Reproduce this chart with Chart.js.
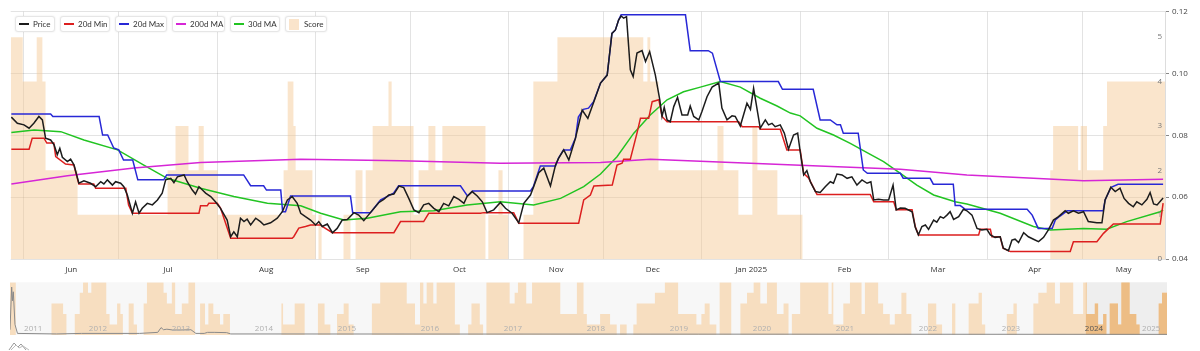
<!DOCTYPE html>
<html><head><meta charset="utf-8">
<script src="https://cdn.jsdelivr.net/npm/chart.js@4.4.1/dist/chart.umd.min.js"></script>
<style>
html,body{margin:0;padding:0;background:#fff;width:1200px;height:351px;overflow:hidden;font-family:"Open Sans",sans-serif;}
#main{position:absolute;left:0;top:0;width:1200px;height:280px;}
#nav{position:absolute;left:0;top:280px;width:1200px;height:56px;}
#legend{position:absolute;left:15px;top:16px;}
.item{position:absolute;top:0;height:16px;box-sizing:border-box;border:1px solid #e6e6e6;border-radius:3px;background:#fff;box-shadow:0 0 2px rgba(0,0,0,0.10);display:flex;align-items:center;padding:0 0 0 3px;font-family:Lato,sans-serif;font-size:8px;color:#333;white-space:nowrap;}
.sw{width:10px;height:2px;margin-right:4px;}
.sq{width:10px;height:11px;margin-right:5px;}
#icon{position:absolute;left:8px;top:340px;}
</style></head><body>
<canvas id="main" width="1200" height="280"></canvas>
<canvas id="nav" width="1200" height="56"></canvas>
<div id="legend"></div>
<svg id="icon" width="22" height="11" viewBox="0 0 22 11"><path d="M1 10 L6 3 L10 7 L13 4 L18 10" fill="none" stroke="#999" stroke-width="1"/><path d="M3 10 L8 5 L11 8 L15 6 L21 10" fill="none" stroke="#bbb" stroke-width="1"/></svg>
<script>
// ---- main chart data: day offsets counted from 1 Jun 2024 ----
const price = [[-3.9,0.0859],[-2.0,0.0839],[0.1,0.0834],[1.7,0.0823],[3.2,0.0839],[4.8,0.0861],[5.9,0.0850],[6.9,0.0791],[8.5,0.0785],[9.6,0.0769],[10.6,0.0737],[11.4,0.0758],[12.2,0.0729],[13.8,0.0715],[14.8,0.0723],[15.9,0.0704],[17.4,0.0645],[19.0,0.0653],[21.1,0.0645],[22.7,0.0634],[24.3,0.0650],[25.3,0.0643],[26.4,0.0656],[28.0,0.0639],[29.0,0.0650],[30.6,0.0645],[31.6,0.0634],[32.7,0.0607],[34.3,0.0548],[35.3,0.0585],[36.4,0.0548],[37.4,0.0564],[39.0,0.0580],[40.6,0.0575],[42.2,0.0591],[43.7,0.0613],[44.8,0.0656],[46.4,0.0661],[47.4,0.0647],[48.5,0.0666],[50.6,0.0672],[51.6,0.0650],[53.2,0.0623],[54.2,0.0610],[55.3,0.0634],[56.4,0.0623],[57.4,0.0613],[59.0,0.0602],[60.5,0.0585],[62.1,0.0564],[64.2,0.0526],[65.3,0.0472],[66.3,0.0488],[67.4,0.0472],[68.4,0.0532],[69.5,0.0521],[70.5,0.0529],[71.6,0.0510],[73.2,0.0532],[74.7,0.0521],[75.8,0.0510],[77.9,0.0517],[80.0,0.0532],[81.6,0.0553],[83.2,0.0591],[84.7,0.0602],[86.3,0.0580],[87.4,0.0548],
[88.9,0.0537],[90.5,0.0526],[92.1,0.0510],[93.1,0.0521],[94.2,0.0505],[95.8,0.0513],[97.4,0.0485],[98.9,0.0499],[100.5,0.0526],[102.1,0.0528],[104.2,0.0550],[105.7,0.0542],[107.3,0.0524],[109.4,0.0550],[112.0,0.0582],[113.6,0.0593],[115.2,0.0607],[116.8,0.0610],[118.4,0.0636],[119.9,0.0631],[121.5,0.0596],[123.1,0.0559],[124.7,0.0550],[126.2,0.0575],[127.8,0.0580],[129.4,0.0564],[131.0,0.0553],[132.5,0.0580],[134.1,0.0572],[135.7,0.0602],[137.3,0.0593],[138.9,0.0580],[139.9,0.0602],[141.5,0.0618],[143.1,0.0604],[144.7,0.0585],[146.2,0.0550],[148.3,0.0559],[150.4,0.0583],[152.0,0.0564],[154.1,0.0548],[156.2,0.0517],[157.8,0.0580],[159.9,0.0607],[160.9,0.0634],[162.5,0.0679],[164.1,0.0694],[166.2,0.0636],[167.8,0.0704],[168.8,0.0726],[170.4,0.0753],[172.0,0.0720],[174.1,0.0791],[176.2,0.0882],[178.0,0.0855],[179.9,0.0909],[182.0,0.0969],
[184.1,0.0995],[185.6,0.1130],[186.7,0.1141],[187.7,0.1173],[188.5,0.1186],[189.3,0.1179],[190.2,0.1184],[191.4,0.1012],[192.3,0.0990],[193.5,0.1066],[195.1,0.1074],[196.2,0.1039],[197.5,0.1071],[199.3,0.0995],[200.7,0.0915],[201.4,0.0861],[202.1,0.0891],[203.0,0.0850],[204.0,0.0844],[205.1,0.0893],[206.3,0.0923],[207.7,0.0866],[209.5,0.0866],[210.3,0.0895],[211.4,0.0861],[213.0,0.0850],[214.0,0.0877],[215.6,0.0925],[217.2,0.0956],[219.3,0.0969],[220.3,0.0888],[221.9,0.0850],[223.5,0.0863],[224.5,0.0861],[226.1,0.0830],[228.2,0.0904],[229.3,0.0884],[230.3,0.0952],[231.6,0.0872],[232.4,0.0823],[234.0,0.0850],[235.0,0.0834],[236.1,0.0839],[237.1,0.0828],[238.7,0.0834],[240.0,0.0807],[241.3,0.0755],[242.9,0.0801],[244.2,0.0807],[245.0,0.0747],[246.1,0.0672],[247.1,0.0686],[248.2,0.0650],[249.8,0.0618],[251.3,0.0615],[252.9,0.0634],[254.5,0.0650],[255.5,0.0645],[256.6,0.0675],[258.2,0.0672],[259.8,0.0661],[261.3,0.0666],[262.9,0.0639],[264.5,0.0656],[266.1,0.0645],[267.3,0.0650],[268.2,0.0591],[269.7,0.0593],[271.3,0.0591],[272.9,0.0591],[274.3,0.0639],[275.3,0.0559],[276.6,0.0565],
[278.1,0.0564],[280.3,0.0553],[281.3,0.0503],[282.3,0.0478],[283.4,0.0505],[284.5,0.0510],[285.5,0.0496],[287.1,0.0526],[288.1,0.0519],[289.2,0.0537],[290.2,0.0532],[291.3,0.0542],[292.3,0.0553],[293.4,0.0528],[295.0,0.0537],[296.5,0.0561],[297.6,0.0556],[299.2,0.0542],[300.8,0.0499],[302.3,0.0494],[303.9,0.0496],[305.0,0.0478],[306.5,0.0470],[308.1,0.0472],[309.1,0.0435],[310.7,0.0427],[311.8,0.0461],[312.8,0.0464],[313.9,0.0453],[315.5,0.0485],[317.0,0.0472],[318.6,0.0464],[320.2,0.0456],[321.8,0.0470],[323.3,0.0494],[324.9,0.0526],[326.5,0.0537],[328.6,0.0556],[329.6,0.0548],[331.2,0.0556],[332.8,0.0548],[334.4,0.0553],[335.9,0.0521],[338.6,0.0517],[340.2,0.0517],[341.2,0.0591],[343.0,0.0632],[344.4,0.0618],[345.9,0.0629],[347.2,0.0596],[348.6,0.0580],[350.1,0.0569],[351.2,0.0585],[352.8,0.0575],[354.4,0.0593],[355.4,0.0615],[356.5,0.0578],[357.6,0.0575],[359.5,0.0597]];

const min20 = [[-3.9,0.0755],[1.7,0.0755],[2.7,0.0791],[6.4,0.0791],[7.3,0.0775],[9.5,0.0775],[10.1,0.0731],[13.2,0.0707],[15.8,0.0704],[17.4,0.0643],[22.1,0.0643],[22.7,0.0629],[32.2,0.0629],[33.1,0.0575],[34.3,0.0548],[55.3,0.0548],[55.8,0.0572],[57.9,0.0572],[58.4,0.0580],[61.1,0.0580],[62.1,0.0565],[65.3,0.0467],[84.7,0.0467],[85.2,0.0472],[86.8,0.0500],[88.9,0.0505],[90.5,0.0510],[93.7,0.0510],[94.3,0.0505],[97.4,0.0485],[116.8,0.0485],[118.9,0.0521],[126.2,0.0521],[127.8,0.0548],[144.1,0.0548],[145.2,0.0550],[154.6,0.0550],[156.2,0.0516],[175.1,0.0516],[176.7,0.0591],[178.8,0.0607],[179.9,0.0636],[185.7,0.0639],[187.2,0.0704],[188.8,0.0710],[189.3,0.0723],[191.4,0.0723],[193.5,0.0807],[194.6,0.0855],[197.2,0.0855],[198.3,0.0909],[200.4,0.0915],[201.4,0.0861],[203.0,0.0844],[225.6,0.0844],[226.7,0.0828],[231.9,0.0828],[232.4,0.0820],[238.7,0.0820],[240.8,0.0753],[245.0,0.0753],[246.1,0.0677],[247.7,0.0661],[250.3,0.0609],[267.1,0.0609],[268.2,0.0585],[274.5,0.0585],[275.3,0.0559],[280.3,0.0559],[281.3,0.0505],[282.3,0.0478],[301.3,0.0478],[301.8,0.0496],[305.0,0.0496],[305.5,0.0472],[308.1,0.0472],[309.0,0.0435],[311.3,0.0424],[330.2,0.0424],[331.2,0.0456],[338.6,0.0456],[340.7,0.0483],[343.8,0.0513],[358.6,0.0513],[359.5,0.0581]];

const max20 = [[-3.9,0.0869],[8.5,0.0869],[9.2,0.0861],[23.8,0.0861],[24.9,0.0801],[26.5,0.0801],[28.4,0.0759],[30.0,0.0753],[31.5,0.0720],[34.4,0.0720],[36.0,0.0656],[44.2,0.0656],[45.1,0.0672],[69.4,0.0672],[71.6,0.0637],[75.7,0.0637],[76.6,0.0623],[81.1,0.0623],[81.7,0.0553],[82.6,0.0553],[84.2,0.0604],[103.1,0.0604],[103.8,0.0550],[109.4,0.0550],[112.6,0.0591],[115.1,0.0604],[116.7,0.0613],[118.3,0.0637],[137.8,0.0637],[140.0,0.0604],[141.6,0.0620],[159.9,0.0620],[160.8,0.0634],[163.0,0.0701],[167.8,0.0701],[168.7,0.0726],[170.3,0.0753],[172.5,0.0753],[174.1,0.0791],[175.0,0.0859],[176.6,0.0884],[178.2,0.0888],[179.8,0.0909],[182.0,0.0969],[184.1,0.0995],[185.6,0.1130],[186.7,0.1141],[187.7,0.1173],[188.5,0.1190],[208.8,0.1190],[210.3,0.1074],[216.0,0.1074],[217.3,0.1066],[219.8,0.0974],[238.1,0.0974],[239.4,0.0949],[249.1,0.0949],[251.3,0.0850],[254.5,0.0850],[256.6,0.0834],[257.7,0.0834],[258.6,0.0807],[263.3,0.0807],[264.9,0.0688],[266.2,0.0677],[276.6,0.0677],[277.5,0.0661],[286.0,0.0661],[287.0,0.0642],[293.3,0.0642],[293.9,0.0573],[295.5,0.0573],[297.1,0.0561],[316.6,0.0561],[318.2,0.0542],[320.1,0.0499],[324.5,0.0499],[325.5,0.0526],[327.0,0.0539],[329.2,0.0556],[340.6,0.0556],[341.2,0.0591],[343.1,0.0632],[345.3,0.0642],[359.5,0.0642]];

const ma200 = [[-3.9,0.0643],[13.8,0.0669],[34.8,0.0694],[55.8,0.0712],[87.4,0.0723],[118.9,0.0718],[150.4,0.0710],[182.0,0.0712],[197.7,0.0723],[229.3,0.0710],[276.6,0.0690],[297.6,0.0672],[318.6,0.0661],[334.4,0.0653],[359.5,0.0658]];

const ma30 = [[-3.9,0.0809],[3.3,0.0817],[11.7,0.0812],[19.0,0.0785],[29.6,0.0753],[37.9,0.0704],[45.3,0.0661],[55.8,0.0629],[66.3,0.0602],[76.9,0.0580],[87.4,0.0572],[93.7,0.0548],[101.0,0.0526],[108.4,0.0532],[118.9,0.0553],[129.4,0.0556],[139.9,0.0575],[150.4,0.0585],[160.9,0.0575],[169.4,0.0596],[176.7,0.0634],[182.0,0.0675],[187.2,0.0731],[192.5,0.0807],[197.7,0.0866],[203.0,0.0915],[208.2,0.0941],[213.5,0.0956],[219.8,0.0974],[226.1,0.0956],[232.4,0.0920],[237.7,0.0895],[241.9,0.0872],[245.0,0.0863],[250.3,0.0823],[255.5,0.0801],[260.8,0.0774],[266.1,0.0744],[271.3,0.0715],[276.6,0.0677],[281.8,0.0639],[287.1,0.0607],[293.9,0.0585],[297.6,0.0578],[308.1,0.0548],[318.6,0.0505],[323.9,0.0494],[334.4,0.0499],[341.7,0.0496],[348.0,0.0521],[358.6,0.0553],[359.5,0.0559]];

// score: [day the level starts, level]
const score = [[-4.1,5],[-0.3,4],[4.1,5],[5.9,4],[6.9,2],[17.0,1],[45.4,2],[47.9,3],[52.0,2],[55.2,3],[56.8,2],[61.2,1],[82.0,2],[83.3,4],[85.1,3],[85.8,2],[91.1,1],[92.1,0],[93.0,1],[94.0,0],[100.9,1],[103.1,0],[104.7,2],[106.9,1],[107.9,2],[110.1,3],[115.1,4],[116.1,3],[123.0,1],[124.6,2],[127.7,3],[129.9,2],[132.1,3],[145.7,0],[146.6,1],[149.8,2],[151.1,1],[152.9,0],[157.7,1],[160.8,4],[168.4,5],[195.5,4],[196.8,5],[197.7,4],[200.3,2],[218.9,3],[220.8,2],[225.5,1],[229.9,3],[231.5,2],[237.8,1],[245.7,0],[323.9,2],[324.8,3],[332.7,2],[333.5,3],[335.5,2],[340.6,3],[341.8,4],[360.1,4]];

const monthLabels = ['Jun','Jul','Aug','Sep','Oct','Nov','Dec','Jan 2025','Feb','Mar','Apr','May'];
const priceTicks = [0.04,0.06,0.08,0.10,0.12];
const scoreTicks = [0,1,2,3,4,5];
const dayMin = -4.1, dayMax = 360.1;

// ---- navigator data: decimal years ----
const navScore = [[2011.44,5],[2011.51,0],[2011.94,3],[2012.08,2],[2012.12,0],[2012.22,2],[2012.28,4],[2012.32,5],[2012.38,4],[2012.42,5],[2012.60,2],[2012.64,1],[2012.73,3],[2012.77,2],[2012.80,0],[2012.87,3],[2012.93,1],[2012.97,0],[2013.05,3],[2013.09,5],[2013.29,4],[2013.33,3],[2013.39,5],[2013.43,2],[2013.51,3],[2013.59,5],[2013.67,0],[2013.73,3],[2013.79,1],[2013.83,3],[2013.89,2],[2013.97,1],[2014.01,2],[2014.09,0],[2014.71,3],[2014.73,1],[2014.87,3],[2014.99,0],[2015.15,3],[2015.23,1],[2015.30,0],[2015.38,2],[2015.46,3],[2015.52,1],[2015.58,0],[2015.80,3],[2015.90,5],[2016.22,3],[2016.32,1],[2016.38,5],[2016.42,3],[2016.46,5],[2016.54,3],[2016.58,5],[2016.80,1],[2016.86,0],[2016.96,1],[2017.00,3],[2017.10,1],[2017.14,0],[2017.18,5],[2017.46,3],[2017.52,4],[2017.56,5],[2017.66,3],[2017.73,5],[2018.07,2],[2018.27,5],[2018.35,2],[2018.39,1],[2018.55,2],[2018.67,1],[2018.75,0],[2018.79,1],[2018.87,0],[2018.95,1],[2018.99,3],[2019.21,4],[2019.33,5],[2019.49,2],[2019.71,1],[2019.77,2],[2019.81,3],[2019.87,1],[2019.95,0],[2019.99,5],[2020.13,0],[2020.24,3],[2020.32,4],[2020.40,5],[2020.48,3],[2020.56,5],[2020.68,2],[2020.76,3],[2020.82,0],[2020.86,2],[2020.96,5],[2021.30,2],[2021.34,5],[2021.36,1],[2021.48,3],[2021.56,5],[2021.70,2],[2021.74,5],[2021.90,3],[2021.96,2],[2022.04,1],[2022.10,2],[2022.18,4],[2022.24,2],[2022.30,0],[2022.50,3],[2022.60,1],[2022.67,0],[2022.79,3],[2022.83,0],[2022.99,3],[2023.11,4],[2023.15,1],[2023.19,0],[2023.45,2],[2023.53,3],[2023.57,0],[2023.77,3],[2023.83,4],[2023.93,5],[2024.03,3],[2024.09,5],[2024.25,2],[2024.37,5],[2024.41,2],[2024.51,3],[2024.55,1],[2024.61,2],[2024.65,0],[2024.69,3],[2024.79,1],[2024.83,5],[2024.93,2],[2025.01,1],[2025.05,0],[2025.28,3],[2025.32,4],[2025.38,4]];
const navPrice = [[2011.44,1.0],[2011.46,9.1],[2011.47,6.5],[2011.48,8.2],[2011.50,2.0],[2011.53,0.3],[2012.0,0.2],[2012.3,0.3],[2013.0,0.3],[2013.22,0.5],[2013.26,1.4],[2013.29,1.0],[2013.33,1.1],[2013.40,0.95],[2013.50,0.95],[2013.62,1.0],[2013.68,0.3],[2013.78,0.3],[2013.82,0.5],[2013.90,0.5],[2014.05,0.45],[2014.10,0.2],[2025.38,0.12]];
const yearLabels = ['2011','2012','2013','2014','2015','2016','2017','2018','2019','2020','2021','2022','2023','2024','2025'];
const yearMin = 2011.44, yearMax = 2025.38, selStart = 2024.40;

// ---- helpers ----
const pts = arr => arr.map(([x, y]) => ({x, y}));
const dayOf = (y, m) => (Date.UTC(y, m, 1) - Date.UTC(2024, 5, 1)) / 864e5;
const monthStarts = [], monthMids = [];
for (let i = 0; i < 12; i++) {
  const s = dayOf(2024, 5 + i), e = dayOf(2024, 6 + i);
  monthStarts.push(s);
  monthMids.push((Math.max(s, dayMin) + Math.min(e, dayMax)) / 2);
}
const FONT = {family: '"Open Sans", sans-serif', size: 8};
const GRID = 'rgba(0,0,0,0.11)';

const C = {price:'#1c1c1c', min:'#dc1f1f', max:'#2828d6', ma200:'#d626d6', ma30:'#22c422', score:'rgba(244,197,142,0.45)', scoreKey:'#fae4cb'};

const lineDs = (label, data, color, order) => ({label, data: pts(data), borderColor: color, backgroundColor: color, borderWidth: 1.5, pointRadius: 0, tension: 0, fill: false, yAxisID: 'y', xAxisID: 'x', order});

const mainChart = new Chart(document.getElementById('main'), {
  type: 'line',
  data: {datasets: [
    lineDs('Price', price, C.price, 0),
    lineDs('20d Min', min20, C.min, 1),
    lineDs('20d Max', max20, C.max, 2),
    lineDs('200d MA', ma200, C.ma200, 3),
    lineDs('30d MA', ma30, C.ma30, 4),
    {label: 'Score', data: pts(score), stepped: 'before', fill: 'origin', backgroundColor: C.score, borderWidth: 0, pointRadius: 0, yAxisID: 'yScore', xAxisID: 'x', order: 10}
  ]},
  options: {
    responsive: false, animation: false, events: [],
    layout: {padding: {left: 10.7, top: 11.7, right: 0, bottom: 0}},
    plugins: {legend: {display: false}, tooltip: {enabled: false}},
    scales: {
      x: {type: 'linear', position: 'bottom', min: dayMin, max: dayMax, weight: 0,
        grid: {color: GRID, drawTicks: false}, border: {display: false},
        ticks: {display: false},
        afterBuildTicks: s => { s.ticks = monthStarts.map(v => ({value: v})); },
        afterFit: s => { s.height = 0; }},
      xl: {type: 'linear', position: 'bottom', min: dayMin, max: dayMax, weight: 1,
        grid: {display: false, drawTicks: false}, border: {display: false},
        afterBuildTicks: s => { s.ticks = monthMids.map(v => ({value: v})); },
        ticks: {autoSkip: false, maxRotation: 0, padding: 6, font: FONT, color: '#333', callback: (v, i) => monthLabels[i]},
        afterFit: s => { s.height = 21; }},
      yScore: {position: 'right', min: 0, max: 5.575, weight: 0,
        grid: {display: false, drawTicks: false}, border: {display: false},
        afterBuildTicks: s => { s.ticks = scoreTicks.map(v => ({value: v})); },
        ticks: {mirror: true, padding: -3, font: FONT, color: '#777', z: 1},
        afterFit: s => { s.width = 0; }},
      y: {position: 'right', min: 0.04, max: 0.12, weight: 1,
        grid: {color: GRID, tickLength: 4, tickColor: '#888'}, border: {color: '#ddd'},
        afterBuildTicks: s => { s.ticks = priceTicks.map(v => ({value: v})); },
        ticks: {padding: 3, font: FONT, color: '#444', callback: v => v.toFixed(2)},
        afterFit: s => { s.width = 35; }}
    }
  }
});

// legend (HTML, built from the datasets)
const legendBoxes = [[0,40],[45,50],[100,52],[157,53],[215,50],[270,42]];
const legend = document.getElementById('legend');
mainChart.data.datasets.forEach((ds, i) => {
  const it = document.createElement('div'); it.className = 'item';
  it.style.left = legendBoxes[i][0] + 'px'; it.style.width = legendBoxes[i][1] + 'px';
  const sw = document.createElement('span');
  if (ds.label === 'Score') { sw.className = 'sq'; sw.style.background = C.scoreKey; }
  else { sw.className = 'sw'; sw.style.background = ds.borderColor; }
  it.appendChild(sw); it.appendChild(document.createTextNode(ds.label));
  legend.appendChild(it);
});

// ---- navigator ----
const selScore = navScore.filter(p => p[0] >= selStart - 0.05).map(([x, y]) => ({x: Math.max(x, selStart), y}));

const navDecor = {
  id: 'navDecor',
  beforeDatasetsDraw(chart) {
    const {ctx, chartArea: a, scales: {x}} = chart;
    ctx.save();
    ctx.fillStyle = '#f7f7f7';
    ctx.fillRect(a.left, a.top, a.right - a.left, a.bottom - a.top);
    const sx = x.getPixelForValue(selStart);
    ctx.fillStyle = '#eeeeee';
    ctx.fillRect(sx, a.top, a.right - sx, a.bottom - a.top);
    ctx.restore();
  },
  afterDatasetsDraw(chart) {
    // year labels centred in the visible part of each year, drawn on top of the bars
    const {ctx, chartArea: a, scales: {x}} = chart;
    ctx.save();
    ctx.font = '8px "Open Sans", sans-serif';
    ctx.textAlign = 'center';
    ctx.textBaseline = 'middle';
    yearLabels.forEach(lbl => {
      const y0 = Math.max(+lbl, yearMin), y1 = Math.min(+lbl + 1, yearMax);
      ctx.fillStyle = lbl === '2024' ? '#555' : '#b0b0b0';
      ctx.fillText(lbl, x.getPixelForValue((y0 + y1) / 2), a.bottom - 6);
    });
    ctx.restore();
  }
};

new Chart(document.getElementById('nav'), {
  type: 'line',
  data: {datasets: [
    {data: navPrice.map(([x, y]) => ({x, y})), borderColor: '#8a8a8a', borderWidth: 1, pointRadius: 0, yAxisID: 'yp', order: 0},
    {data: selScore, stepped: 'before', fill: 'origin', backgroundColor: '#edbd85', borderWidth: 0, pointRadius: 0, yAxisID: 'ys', order: 1},
    {data: pts(navScore), stepped: 'before', fill: 'origin', backgroundColor: '#f7dec0', borderWidth: 0, pointRadius: 0, yAxisID: 'ys', order: 2}
  ]},
  options: {
    responsive: false, animation: false, events: [],
    layout: {padding: {left: 10, right: 33, top: 2.3, bottom: 1}},
    plugins: {legend: {display: false}, tooltip: {enabled: false}},
    scales: {
      x: {type: 'linear', min: yearMin, max: yearMax, display: false},
      ys: {display: false, min: 0, max: 5},
      yp: {display: false, min: 0, max: 10}
    }
  },
  plugins: [navDecor]
});
</script>
</body></html>
